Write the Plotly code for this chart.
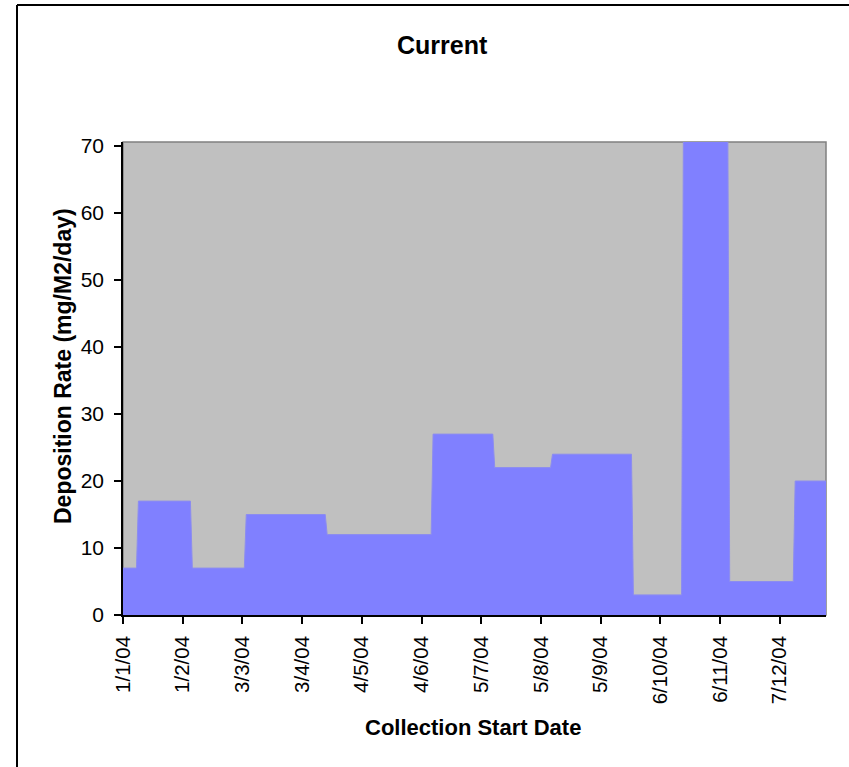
import plotly.graph_objects as go
from datetime import date, timedelta

# Collection periods (start date) and deposition rate for each period
period_starts = ["2004-01-01", "2004-01-09", "2004-02-06", "2004-03-05", "2004-04-16",
                 "2004-06-10", "2004-07-12", "2004-08-11", "2004-09-22", "2004-10-18",
                 "2004-11-11", "2004-12-15"]
period_values = [7, 17, 7, 15, 12, 27, 22, 24, 3, 75, 5, 20]
series_end = "2004-12-31"

tick_dates = ["2004-01-01", "2004-02-01", "2004-03-03", "2004-04-03", "2004-05-04",
              "2004-06-04", "2004-07-05", "2004-08-05", "2004-09-05", "2004-10-06",
              "2004-11-06", "2004-12-07"]
tick_labels = ["1/1/04", "1/2/04", "3/3/04", "3/4/04", "4/5/04", "4/6/04", "5/7/04",
               "5/8/04", "5/9/04", "6/10/04", "6/11/04", "7/12/04"]

# Daily series: each day takes the value of the collection period it falls in
d0 = date.fromisoformat(period_starts[0])
d_end = date.fromisoformat(series_end)
starts = [date.fromisoformat(s) for s in period_starts]
xs, ys = [], []
d = d0
while d <= d_end:
    idx = max(i for i, s in enumerate(starts) if s <= d)
    xs.append(d.isoformat())
    ys.append(period_values[idx])
    d += timedelta(days=1)

FONT = "Arial, Liberation Sans, sans-serif"

fig = go.Figure()
fig.add_trace(go.Scatter(
    x=xs, y=ys, mode="lines", fill="tozeroy",
    fillcolor="#8080FF", line=dict(color="#8C8CF0", width=1),
    hoverinfo="x+y", showlegend=False,
))

L, R, T, B = 123, 826, 142, 615
W, H = 849, 767
pw, ph = R - L, B - T

def px(xp):
    return (xp - L) / pw

def py(yp):
    return (B - yp) / ph

fig.update_layout(
    width=W, height=H,
    margin=dict(l=L, r=W - R, t=T, b=H - B, autoexpand=False),
    paper_bgcolor="white", plot_bgcolor="#C0C0C0",
    font=dict(family=FONT, color="black", size=21),
    showlegend=False,
    xaxis=dict(
        type="date", range=[period_starts[0], series_end],
        tickmode="array", tickvals=tick_dates, ticktext=tick_labels,
        tickangle=-90, ticks="outside", ticklen=7, tickwidth=1.5, tickcolor="black",
        showline=True, linecolor="black", linewidth=1.5,
        showgrid=False, zeroline=False, tickfont=dict(size=20.5),
        ticklabelstandoff=4, automargin=False,
    ),
    yaxis=dict(
        range=[0, 70.6], tickmode="linear", tick0=0, dtick=10,
        ticks="outside", ticklen=7, tickwidth=1.5, tickcolor="black",
        showline=True, linecolor="black", linewidth=1.5,
        showgrid=False, zeroline=False, tickfont=dict(size=21),
        ticklabelstandoff=6, automargin=False,
    ),
    shapes=[
        dict(type="rect", xref="paper", yref="paper", x0=0, x1=1, y0=0, y1=1,
             line=dict(color="#808080", width=1.5), layer="below"),
        dict(type="line", xref="paper", yref="paper", x0=px(17), x1=px(860),
             y0=py(5), y1=py(5), line=dict(color="black", width=2)),
        dict(type="line", xref="paper", yref="paper", x0=px(17), x1=px(17),
             y0=py(5), y1=py(780), line=dict(color="black", width=2)),
    ],
    annotations=[
        dict(text="<b>Current</b>", xref="paper", yref="paper", x=px(442), y=py(45),
             xanchor="center", yanchor="middle", showarrow=False,
             font=dict(size=25, family=FONT)),
        dict(text="<b>Collection Start Date</b>", xref="paper", yref="paper",
             x=px(473), y=py(727), xanchor="center", yanchor="middle", showarrow=False,
             font=dict(size=22, family=FONT)),
        dict(text="<b>Deposition Rate (mg/M2/day)</b>", xref="paper", yref="paper",
             x=px(63), y=py(366), xanchor="center", yanchor="middle", showarrow=False,
             textangle=-90, font=dict(size=23, family=FONT)),
    ],
)

fig.write_html(
    "out.html",
    config={"displayModeBar": False},
    post_script="document.body.style.margin='0';document.body.style.overflow='hidden';",
)
